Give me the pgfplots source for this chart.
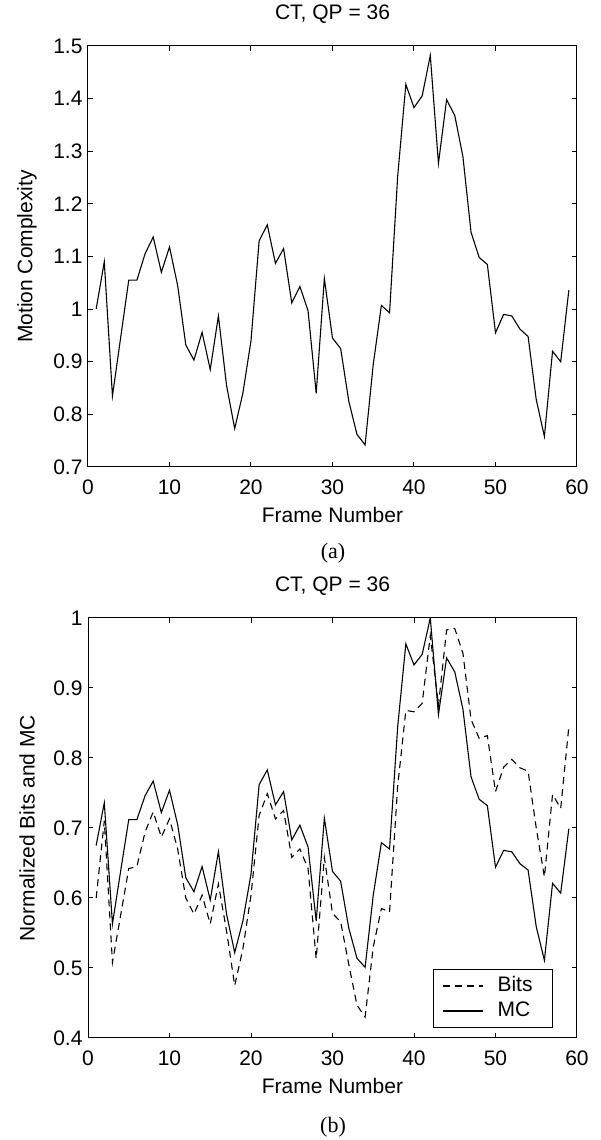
\documentclass[border=0pt]{standalone}
\usepackage{pgfplots}
\pgfplotsset{compat=1.18}
\usepackage{fontspec}
\setmainfont{Liberation Sans}
\newfontfamily\capfont{Liberation Serif}

\pgfplotstableread{
x mc
1 1.000
2 1.090
3 0.835
4 0.945
5 1.055
6 1.055
7 1.105
8 1.137
9 1.070
10 1.118
11 1.045
12 0.932
13 0.903
14 0.956
15 0.885
16 0.987
17 0.855
18 0.773
19 0.840
20 0.940
21 1.130
22 1.160
23 1.087
24 1.115
25 1.012
26 1.043
27 0.997
28 0.840
29 1.058
30 0.945
31 0.925
32 0.825
33 0.762
34 0.742
35 0.895
36 1.007
37 0.993
38 1.253
39 1.427
40 1.383
41 1.405
42 1.482
43 1.277
44 1.398
45 1.368
46 1.290
47 1.146
48 1.098
49 1.085
50 0.955
51 0.990
52 0.987
53 0.962
54 0.948
55 0.828
56 0.758
57 0.920
58 0.900
59 1.036
}\mctable

\pgfplotstableread{
x bits nmc
1 0.600 0.675
2 0.710 0.736
3 0.508 0.563
4 0.575 0.638
5 0.642 0.712
6 0.645 0.712
7 0.694 0.746
8 0.723 0.767
9 0.687 0.722
10 0.713 0.754
11 0.670 0.705
12 0.600 0.629
13 0.577 0.609
14 0.604 0.645
15 0.563 0.597
16 0.620 0.666
17 0.553 0.577
18 0.475 0.522
19 0.527 0.567
20 0.604 0.634
21 0.718 0.762
22 0.749 0.783
23 0.713 0.733
24 0.725 0.752
25 0.658 0.683
26 0.670 0.704
27 0.642 0.673
28 0.513 0.567
29 0.658 0.714
30 0.578 0.638
31 0.566 0.624
32 0.505 0.557
33 0.447 0.514
34 0.430 0.501
35 0.530 0.604
36 0.585 0.679
37 0.580 0.670
38 0.760 0.845
39 0.868 0.963
40 0.866 0.933
41 0.878 0.948
42 0.975 1.000
43 0.875 0.862
44 0.983 0.943
45 0.985 0.923
46 0.950 0.870
47 0.855 0.773
48 0.828 0.741
49 0.832 0.732
50 0.752 0.644
51 0.787 0.668
52 0.798 0.666
53 0.786 0.649
54 0.781 0.640
55 0.700 0.559
56 0.630 0.511
57 0.748 0.621
58 0.728 0.607
59 0.845 0.699
}\bitstable

\pgfplotsset{
  myaxis/.style={
    scale only axis, width=489pt,
    xmin=0, xmax=60, xtick={0,10,20,30,40,50,60},
    tick align=inside, major tick length=5pt,
    axis line style={line width=1pt},
    every tick/.style={line width=1pt, black},
    /pgf/number format/assume math mode=true,
    tick label style={font=\fontsize{21}{24}\selectfont},
    label style={font=\fontsize{21}{24}\selectfont},
    title style={font=\fontsize{21}{24}\selectfont, at={(axis description cs:0.5,1)}, anchor=center, yshift=26pt},
    xlabel style={at={(axis description cs:0.5,0)}, anchor=center, yshift=-48pt},
    ylabel style={at={(axis description cs:-0.1247,0.5)}, anchor=center},
    xticklabel style={anchor=center, yshift=-20pt},
    yticklabel style={anchor=east, xshift=-2pt},
    xlabel={Frame Number},
    title={CT, QP = 36},
  }
}

\begin{document}
\begin{tikzpicture}[x=1pt,y=1pt]
\useasboundingbox (0,0) rectangle (600,1140);

\begin{axis}[myaxis, at={(88pt,673pt)}, anchor=south west, height=421pt,
  ymin=0.7, ymax=1.5, ytick={0.7,0.8,0.9,1,1.1,1.2,1.3,1.4,1.5},
  yticklabels={0.7,0.8,0.9,1,1.1,1.2,1.3,1.4,1.5},
  ylabel={Motion Complexity}]
\addplot[black, line width=1.1pt] table[x=x, y=mc] {\mctable};
\end{axis}

\node[font=\capfont\fontsize{22}{26}\selectfont] at (333,587) {(a)};

\begin{axis}[myaxis, at={(88pt,102pt)}, anchor=south west, height=420pt,
  ymin=0.4, ymax=1, ytick={0.4,0.5,0.6,0.7,0.8,0.9,1},
  yticklabels={0.4,0.5,0.6,0.7,0.8,0.9,1},
  ylabel={Normalized Bits and MC},
  legend image code/.code={\draw[#1] (0pt,0pt) -- (40pt,0pt); \path (52pt,0pt);},
  legend style={at={(axis description cs:0.951,0.0238)}, anchor=south east,
    draw=black, line width=1pt, font=\fontsize{21}{24}\selectfont,
    inner xsep=9pt, inner ysep=5pt, row sep=2pt,
    nodes={inner sep=2pt, text height=15pt, text depth=4pt}},
  legend cell align=left]
\addplot[black, line width=1.1pt, dash pattern=on 7pt off 5pt] table[x=x, y=bits] {\bitstable};
\addlegendentry{\makebox[44pt][l]{Bits}}
\addplot[black, line width=1.1pt] table[x=x, y=nmc] {\bitstable};
\addlegendentry{\makebox[44pt][l]{MC}}
\end{axis}

\node[font=\capfont\fontsize{22}{26}\selectfont] at (333,13) {(b)};
\end{tikzpicture}
\end{document}
